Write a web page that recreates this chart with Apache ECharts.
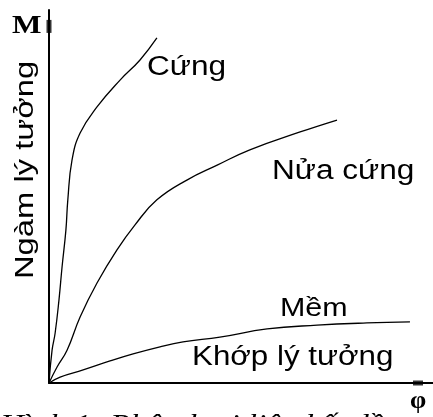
<!DOCTYPE html>
<html><head><meta charset="utf-8">
<script src="https://cdn.jsdelivr.net/npm/echarts@6/dist/echarts.min.js"></script>
<style>html,body{margin:0;padding:0;background:#fff;overflow:hidden}#c{width:433px;height:417px}</style>
</head><body><div id="c"></div>
<script>
// Moment (M) vs rotation (phi) curves, arbitrary units 0..100
const rigidCurve = [[0,0],[0.8,8.8],[1.6,13.4],[2.6,22.3],[3.4,31.1],[4.4,41.0],[4.9,49.1],[6.0,59.8],[8.1,67.0],[12.5,74.0],[18.5,81.2],[23.7,86.6],[28.1,92.5]];
const semiRigidCurve = [[0,0],[2.1,4.3],[4.7,8.8],[8.1,17.7],[12.5,26.8],[17.7,35.7],[22.4,42.4],[28.1,49.1],[35.9,54.4],[43.8,58.4],[52.3,62.5],[65.4,67.3],[75.0,70.5]];
const flexibleCurve = [[0,0],[2.9,1.6],[8.9,3.5],[15.9,5.9],[21.9,7.8],[28.9,9.7],[34.9,11.0],[44.5,12.3],[56.8,14.5],[69.8,15.5],[82.8,16.1],[94.0,16.4]];
const curveNames = ['Cứng', 'Nửa cứng', 'Mềm'];
const pinLabel = 'Khớp lý tưởng';
const fixedLabel = 'Ngàm lý tưởng';
const yAxisName = 'M';
const xAxisName = 'φ';
const caption = 'Hình 1: Phân loại liên kết dầm';
const axisMarks = [[0, 95.6], [96.1, 0]];

const chart = echarts.init(document.getElementById('c'), null, {renderer: 'canvas'});
const sans = 'Liberation Sans';
const lineSeries = (name, data) => ({
  type: 'line', name, data, showSymbol: false, smooth: 0.45,
  lineStyle: {color: '#000', width: 1.3}, silent: true
});
const markSizes = [[5, 13], [10, 5]];
const txt = (text, x, y, opts) => Object.assign({
  type: 'text', x, y, silent: true,
  style: Object.assign({text, fill: '#000', font: '27px "' + sans + '"', textAlign: 'left', textVerticalAlign: 'middle'}, opts.style || {})
}, opts.el || {});

chart.setOption({
  animation: false,
  backgroundColor: '#fff',
  grid: {left: 49, top: 10, right: 0, bottom: 34, containLabel: false},
  xAxis: {type: 'value', min: 0, max: 100, axisLine: {show: true, onZero: false, lineStyle: {color: '#000', width: 2}},
    axisTick: {show: false}, axisLabel: {show: false}, splitLine: {show: false}},
  yAxis: {type: 'value', min: 0, max: 100, axisLine: {show: true, onZero: false, lineStyle: {color: '#000', width: 2}},
    axisTick: {show: false}, axisLabel: {show: false}, splitLine: {show: false}},
  series: [
    lineSeries(curveNames[0], rigidCurve),
    lineSeries(curveNames[1], semiRigidCurve),
    lineSeries(curveNames[2], flexibleCurve),
    {type: 'scatter', silent: true, symbol: 'rect',
      data: axisMarks.map((p, i) => ({value: p, symbolSize: markSizes[i]})),
      itemStyle: {color: '#000'}}
  ],
  graphic: [
    txt(yAxisName, 12, 26, {style: {font: 'bold 26px "Liberation Serif"'}, el: {scaleX: 1.2}}),
    txt(xAxisName, 418, 401, {style: {font: 'bold 26px "Liberation Serif"', textAlign: 'center'}}),
    txt(fixedLabel, 26, 170, {style: {font: '26px "' + sans + '"', textAlign: 'center'}, el: {rotation: Math.PI / 2, scaleX: 1.26}}),
    txt(curveNames[0], 147, 68, {el: {scaleX: 1.17}}),
    txt(curveNames[1], 272, 172, {el: {scaleX: 1.17}}),
    txt(curveNames[2], 280, 309, {style: {font: '26px "' + sans + '"'}, el: {scaleX: 1.17}}),
    txt(pinLabel, 192, 358, {el: {scaleX: 1.16}}),
    txt(caption, 0, 426, {style: {font: 'italic 28px "Liberation Serif"'}, el: {scaleX: 1.18}})
  ]
});
</script></body></html>
